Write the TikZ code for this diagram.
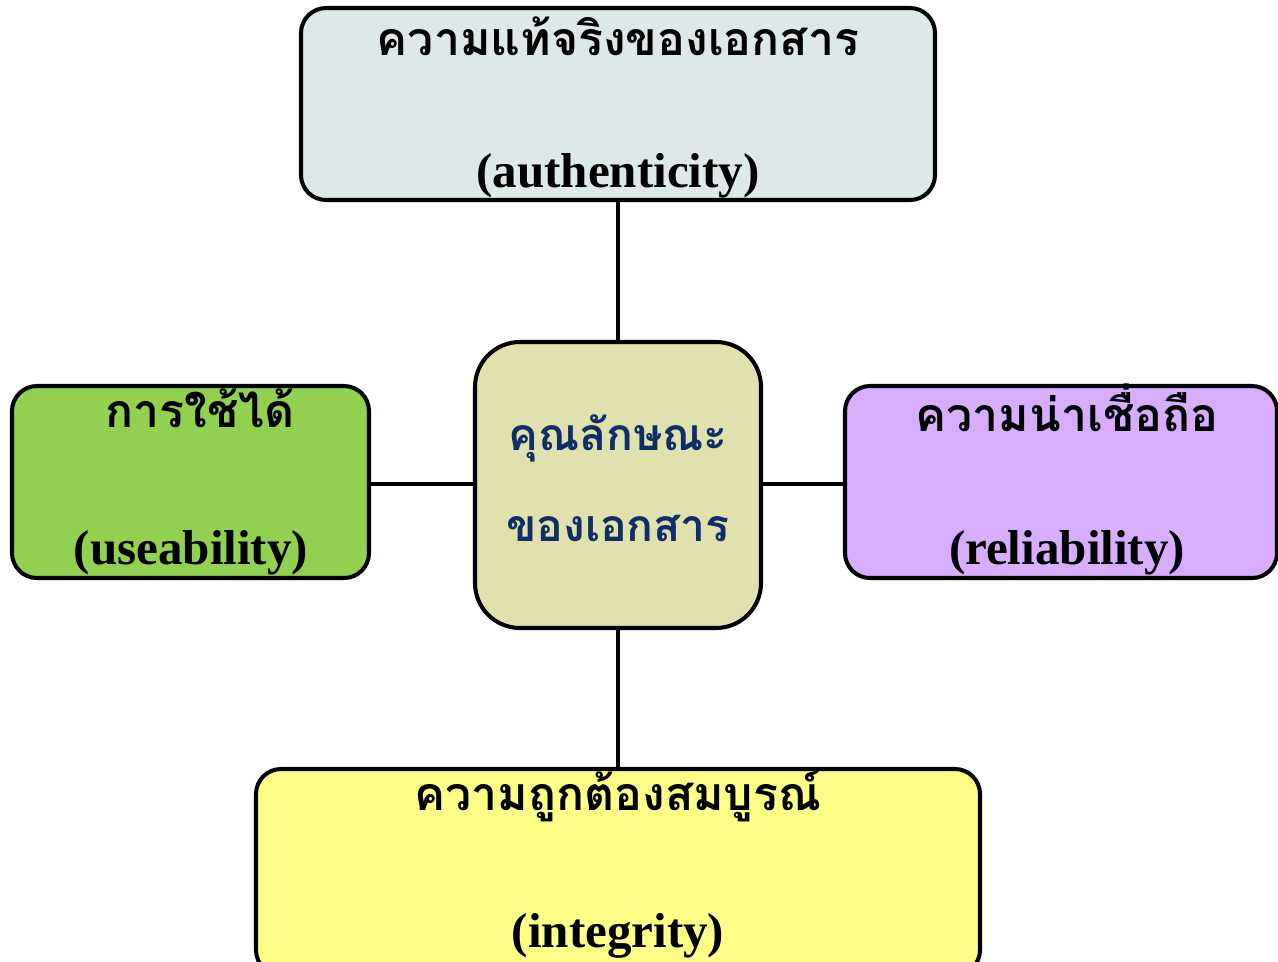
\documentclass[tikz,border=0pt]{standalone}
\usepackage{fontspec}
\setmainfont{Liberation Serif}
\newfontfamily\thaifont[Script=Thai]{Loma}
\definecolor{authfill}{HTML}{DDE8E8}
\definecolor{usefill}{HTML}{92D050}
\definecolor{corefill}{HTML}{E1E1AD}
\definecolor{relfill}{HTML}{D8ADFF}
\definecolor{intfill}{HTML}{FFFF88}
\definecolor{coretext}{HTML}{0F2D66}
\tikzset{
  panel/.style={draw=black, line width=2.3pt, rounded corners=0.5cm},
  link/.style={draw=black, line width=2.3pt},
  thaitxt/.style={font=\thaifont\bfseries\fontsize{26.4}{30}\selectfont, inner sep=0pt},
  engtxt/.style={font=\bfseries\fontsize{27.9}{32}\selectfont, inner sep=0pt},
  coretxt/.style={font=\thaifont\bfseries\fontsize{25.3}{30}\selectfont, text=coretext, inner sep=0pt}
}
\begin{document}
\begin{tikzpicture}[x=0.02cm, y=-0.02cm]
\useasboundingbox (0,0) rectangle (1278,961);
% boxes
\path[panel, fill=authfill] (301,8) rectangle (935,200);
\coordinate (authS) at (618,200);
\path[panel, fill=usefill] (12,386) rectangle (369,578);
\coordinate (useE) at (369,484);
\path[panel, fill=relfill] (845,386) rectangle (1277,578);
\coordinate (relW) at (845,484);
\path[panel, fill=intfill] (256,769) rectangle (980,975);
\coordinate (intN) at (618,769);
\path[panel, rounded corners=0.9cm, fill=corefill] (475,342) rectangle (761,628);
\coordinate (coreN) at (618,342);
\coordinate (coreS) at (618,628);
\coordinate (coreW) at (475,484);
\coordinate (coreE) at (761,484);
% connectors
\draw[link] (authS) -- (coreN);
\draw[link] (useE) -- (coreW);
\draw[link] (coreE) -- (relW);
\draw[link] (coreS) -- (intN);
% labels
\node[thaitxt] (authTh) at (618,36) {ความแท้จริงของเอกสาร};
\node[engtxt] (authEn) at (618,176) {(authenticity)};
\node[thaitxt] (useTh) at (200,408) {การใช้ได้};
\node[engtxt] (useEn) at (191,553) {(useability)};
\node[thaitxt] (relTh) at (1067,408) {ความน่าเชื่อถือ};
\node[engtxt] (relEn) at (1067,553) {(reliability)};
\node[thaitxt] (intTh) at (618,796) {ความถูกต้องสมบูรณ์};
\node[engtxt] (intEn) at (618,936) {(integrity)};
\node[coretxt] (coreA) at (618,438) {คุณลักษณะ};
\node[coretxt] (coreB) at (618,528) {ของเอกสาร};
\end{tikzpicture}
\end{document}
